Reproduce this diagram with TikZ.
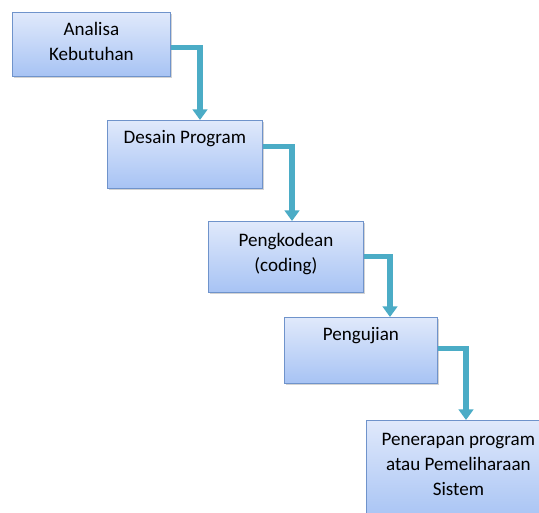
\documentclass[tikz,border=0pt]{standalone}
\usepackage{fontspec}
\setmainfont{Carlito}
\usetikzlibrary{positioning, shadows, arrows.meta}
\definecolor{boxtop}{HTML}{E0E9FB}
\definecolor{boxbot}{HTML}{A7C3F4}
\definecolor{boxline}{HTML}{6F93CB}
\definecolor{flowcol}{HTML}{4BACC6}

\begin{document}
\begin{tikzpicture}[x=0.75pt, y=-0.75pt,
	stepbox/.style={draw=boxline, line width=0.6pt, anchor=north west, inner sep=0pt,
		top color=boxtop, bottom color=boxbot,
		drop shadow={opacity=0.35, shadow xshift=1.2pt, shadow yshift=-1.2pt}},
	steptext/.style={inner sep=0pt, align=center, font=\fontsize{14.3}{18.6}\selectfont},
	flow/.style={draw=flowcol, line width=3.8pt, -{Triangle[width=11pt, length=8pt]}}]
	\useasboundingbox (0,0) rectangle (539,512);
	% boxes
	\node[stepbox, minimum width=118.5pt, minimum height=48pt] (analisa) at (12,12) {};
	\node[stepbox, minimum width=116.25pt, minimum height=51pt] (desain) at (107,120) {};
	\node[stepbox, minimum width=116.25pt, minimum height=53.25pt] (kode) at (208,221) {};
	\node[stepbox, minimum width=114.75pt, minimum height=49.5pt] (uji) at (284,317) {};
	\node[stepbox, minimum width=138pt, minimum height=75pt] (terap) at (366,420) {};
	% texts
	\node[steptext, below=7.5pt of analisa.north] (analisa-t) {Analisa\\Kebutuhan};
	\node[steptext, below=7.5pt of desain.north] (desain-t) {Desain Program};
	\node[steptext, below=9pt of kode.north] (kode-t) {Pengkodean\\(coding)};
	\node[steptext, below=7.5pt of uji.north] (uji-t) {Pengujian};
	\node[steptext, below=10pt of terap.north] (terap-t) {Penerapan program\\atau Pemeliharaan\\Sistem};
	% arrows
	\draw[flow] ([yshift=-2.25pt]analisa.east) -| (desain.north -| 200,0);
	\draw[flow] ([yshift=6pt]desain.east) -| (kode.north -| 292,0);
	\draw[flow] (kode.east) -| (uji.north -| 390,0);
	\draw[flow] ([yshift=1.5pt]uji.east) -| (terap.north -| 466,0);
\end{tikzpicture}
\end{document}
